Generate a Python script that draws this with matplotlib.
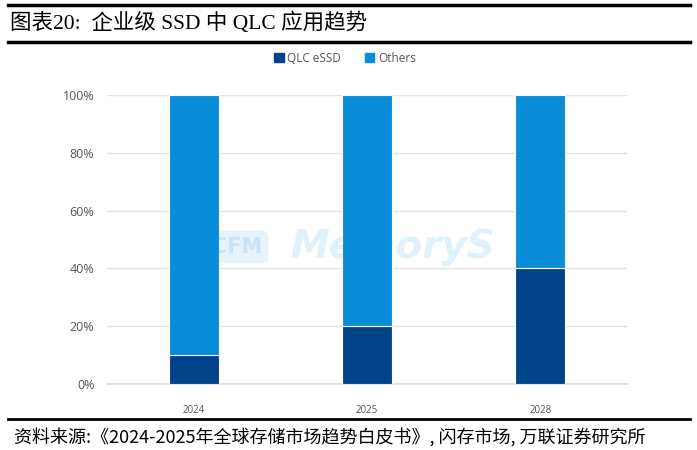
import matplotlib
matplotlib.use("Agg")
import matplotlib.pyplot as plt
from matplotlib.patches import Rectangle
from matplotlib.lines import Line2D

categories = ["2024", "2025", "2028"]
qlc_essd = [10, 20, 40]
others = [90, 80, 60]
yticks = [0, 20, 40, 60, 80, 100]
ytick_labels = ["0%", "20%", "40%", "60%", "80%", "100%"]

title = "图表20:  企业级 SSD 中 QLC 应用趋势"
source = "资料来源:《2024-2025年全球存储市场趋势白皮书》, 闪存市场, 万联证券研究所"

dark = "#00438A"
light = "#0A8DD9"
grid_c = "#E4E4E4"
tick_c = "#555555"

fig = plt.figure(figsize=(6.97, 4.5), dpi=100)
W, H = 697, 450

ax = fig.add_axes([107 / W, 1 - 384 / H, (627 - 107) / W, (384 - 95) / H])
x = list(range(len(categories)))
bw = 0.29
ax.bar(x, qlc_essd, width=bw, color=dark, edgecolor="white", linewidth=0.8, zorder=3, label="QLC eSSD")
ax.bar(x, others, width=bw, bottom=qlc_essd, color=light, edgecolor="white", linewidth=0.8, zorder=3, label="Others")
ax.set_xlim(-0.5, 2.5)
ax.set_ylim(0, 100)
ax.set_yticks(yticks)
ax.set_yticklabels(ytick_labels)
ax.set_xticks(x)
ax.set_xticklabels(categories)
ax.yaxis.grid(True, color=grid_c, linewidth=1.0, zorder=0)
ax.set_axisbelow(True)
for s in ["top", "right", "left"]:
    ax.spines[s].set_visible(False)
ax.spines["bottom"].set_color("#D8D8D8")
ax.spines["bottom"].set_linewidth(1.2)
ax.tick_params(axis="both", length=0, colors=tick_c, labelsize=9)
ax.tick_params(axis="x", pad=15, labelsize=7)
ax.tick_params(axis="y", pad=9)
for lbl in ax.get_xticklabels() + ax.get_yticklabels():
    lbl.set_family(["Open Sans", "DejaVu Sans"])

# watermark
fig.text(212 / W, 1 - 247 / H, "CFM", fontsize=15, color="#0A8DD9", alpha=0.14,
         fontweight="bold", va="center", ha="left", family="DejaVu Sans",
         bbox=dict(boxstyle="round,pad=0.3", fc="#0A8DD9", ec="none", alpha=0.10))
fig.text(290 / W, 1 - 247 / H, "MemoryS", fontsize=28, color="#0A8DD9", alpha=0.12,
         fontweight="bold", fontstyle="italic", va="center", ha="left", family="DejaVu Sans")

# legend
handles = [Rectangle((0, 0), 1, 1, color=dark), Rectangle((0, 0), 1, 1, color=light)]
leg = fig.legend(handles, ["QLC eSSD", "Others"], loc="center", bbox_to_anchor=(345 / W, 1 - 58 / H),
                 ncol=2, frameon=False, handlelength=0.8, handleheight=0.8,
                 handletextpad=0.3, columnspacing=2.0,
                 prop={"family": ["Open Sans", "DejaVu Sans"], "size": 8.5})
for t in leg.get_texts():
    t.set_color(tick_c)

# title and lines
fig.add_artist(Line2D([8 / W, 690 / W], [1 - 5 / H, 1 - 5 / H], color="black", linewidth=2.5))
fig.add_artist(Line2D([8 / W, 690 / W], [1 - 42 / H, 1 - 42 / H], color="black", linewidth=2.5))
fig.text(10 / W, 1 - 23 / H, title, fontsize=15.5, va="center", ha="left",
         family=["Liberation Serif", "Noto Sans CJK SC"])
fig.add_artist(Line2D([8 / W, 690 / W], [1 - 419 / H, 1 - 419 / H], color="black", linewidth=2.0))
fig.text(14 / W, 1 - 437 / H, source, fontsize=13, va="center", ha="left", fontstyle="italic",
         family=["Noto Sans CJK SC", "DejaVu Sans"])

fig.savefig("out.png", dpi=100)
